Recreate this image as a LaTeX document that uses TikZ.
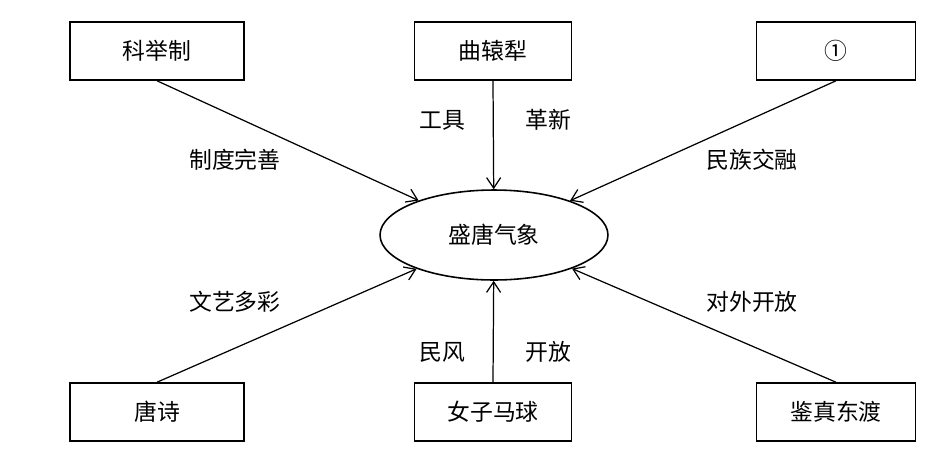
\documentclass[tikz,border=0pt]{standalone}
\usepackage{fontspec}
\newfontfamily\cjk{Noto Sans CJK SC}
\usetikzlibrary{shapes.geometric,arrows.meta}
\begin{document}
\begin{tikzpicture}[x=0.02cm,y=-0.02cm,
  box/.style={draw,line width=0.9pt,minimum width=3.48cm,minimum height=1.16cm,font=\cjk\fontsize{13}{15}\selectfont},
  lab/.style={font=\cjk\fontsize{13}{15}\selectfont},
  arr/.style={line width=0.7pt,-{Straight Barb[length=6pt,width=8pt]}}]
\useasboundingbox (0,0) rectangle (948,454);
\node[box] (a) at (157,51) {科举制};
\node[box,minimum width=3.14cm] (b) at (493,51) {曲辕犁};
\node[box,minimum width=3.18cm] (c) at (836,51) {①};
\node[box] (d) at (157,412) {唐诗};
\node[box,minimum width=3.14cm] (e) at (493,412) {女子马球};
\node[box,minimum width=3.18cm] (f) at (836,412) {鉴真东渡};
\node[draw,ellipse,line width=0.9pt,minimum width=4.56cm,minimum height=1.8cm,font=\cjk\fontsize{13}{15}\selectfont] (m) at (494,235) {盛唐气象};
\draw[arr] (a.south) -- (m);
\draw[arr] (b.south) -- (m);
\draw[arr] (c.south) -- (m);
\draw[arr] (d.north) -- (m);
\draw[arr] (e.north) -- (m);
\draw[arr] (f.north) -- (m);
\node[lab] (l1) at (235,160) {制度完善};
\node[lab] (l2) at (442,120) {工具};
\node[lab] (l3) at (548,120) {革新};
\node[lab] (l4) at (752,160) {民族交融};
\node[lab] (l5) at (235,302) {文艺多彩};
\node[lab] (l6) at (442,352) {民风};
\node[lab] (l7) at (548,352) {开放};
\node[lab] (l8) at (752,302) {对外开放};
\end{tikzpicture}
\end{document}
